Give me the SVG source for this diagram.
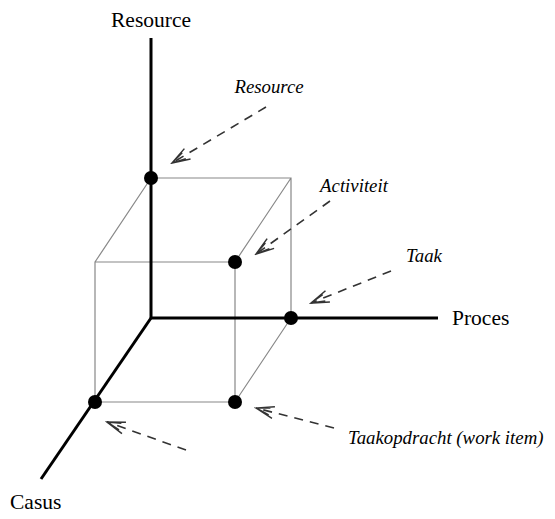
<svg xmlns="http://www.w3.org/2000/svg" width="555" height="519" viewBox="0 0 555 519">
<style>
.axis{stroke:#000;stroke-width:3;fill:none}
.cube{stroke:#888;stroke-width:1.2;fill:none}
.dash{stroke:#333;stroke-width:1.6;stroke-dasharray:9,7;fill:none;marker-end:url(#ah)}
.lbl{font-family:"Liberation Serif",serif;font-size:21.5px;fill:#000}
.it{font-family:"Liberation Serif",serif;font-size:18.8px;font-style:italic;fill:#000}
.dot{fill:#000}
</style>
<defs>
<marker id="ah" markerWidth="22" markerHeight="14" refX="20" refY="7" orient="auto" markerUnits="userSpaceOnUse">
<path d="M2,1 L20,7 L2,13 M6,3.5 L20,7 L6,10.5" stroke="#333" stroke-width="1.5" fill="none"/>
</marker>
</defs>
<rect width="555" height="519" fill="#fff"/>
<g id="cube">
<path class="cube" d="M151,178 H291 V318 M95,262 H235 V402 H95 Z M151,178 L95,262 M291,178 L235,262 M291,318 L235,402"/>
</g>
<g id="axes">
<line class="axis" x1="151" y1="38" x2="151" y2="318"/>
<line class="axis" x1="151" y1="318" x2="438" y2="318"/>
<line class="axis" x1="151" y1="318" x2="41" y2="479"/>
</g>
<g id="connectors">
<line class="dash" x1="266" y1="107" x2="172" y2="163"/>
<line class="dash" x1="330" y1="201" x2="256" y2="254"/>
<line class="dash" x1="391" y1="271" x2="311" y2="303"/>
<line class="dash" x1="186" y1="450" x2="107" y2="422"/>
<line class="dash" x1="334" y1="428" x2="256" y2="408"/>
</g>
<g id="n-resource-pt"><circle class="dot" cx="151" cy="178" r="7"/></g>
<g id="n-activiteit-pt"><circle class="dot" cx="235" cy="262" r="7"/></g>
<g id="n-taak-pt"><circle class="dot" cx="291" cy="318" r="7"/></g>
<g id="n-casus-pt"><circle class="dot" cx="95" cy="402" r="7"/></g>
<g id="n-taakopdracht-pt"><circle class="dot" cx="235" cy="402" r="7"/></g>
<g id="labels">
<text class="lbl" x="151" y="27" text-anchor="middle">Resource</text>
<text class="lbl" x="452" y="325">Proces</text>
<text class="lbl" x="10" y="509">Casus</text>
<text class="it" x="269" y="93" text-anchor="middle">Resource</text>
<text class="it" x="354" y="192" text-anchor="middle">Activiteit</text>
<text class="it" x="424" y="262" text-anchor="middle">Taak</text>
<text class="it" x="348" y="444">Taakopdracht (work item)</text>
</g>
</svg>
